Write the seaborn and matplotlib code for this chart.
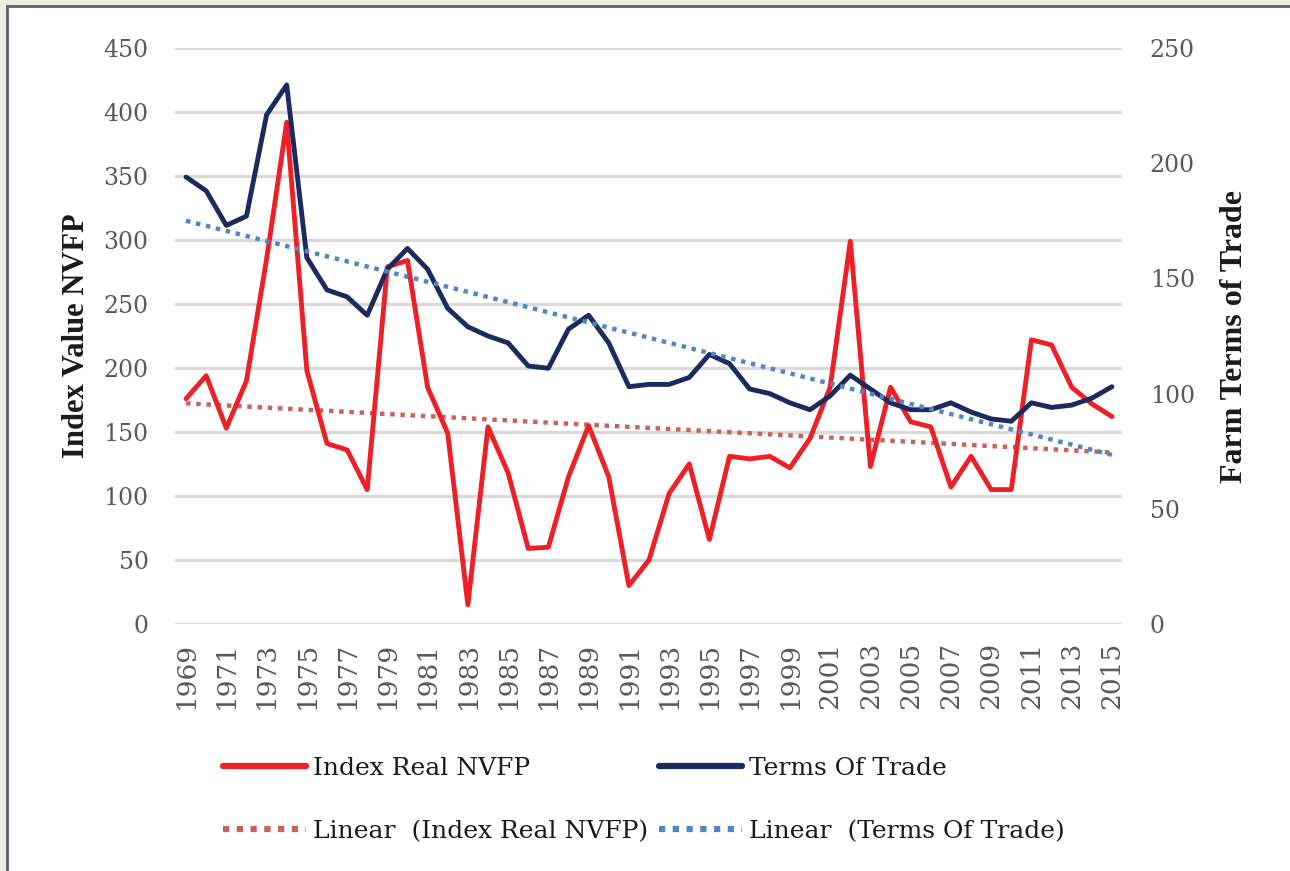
import matplotlib
matplotlib.use("Agg")
import matplotlib.pyplot as plt
import seaborn as sns
import numpy as np
import pandas as pd
from matplotlib.lines import Line2D
from matplotlib.patches import Rectangle

years = list(range(1969, 2016))
index_real_nvfp = [176, 194, 153, 190, 285, 392, 198, 141, 136, 105, 279, 284, 185, 149, 15,
                   154, 118, 59, 60, 115, 155, 115, 30, 50, 102, 125, 66, 131, 129, 131, 122,
                   145, 185, 299, 123, 185, 158, 154, 107, 131, 105, 105, 222, 218, 185, 172, 162]
terms_of_trade = [194, 188, 173, 177, 221, 234, 159, 145, 142, 134, 154, 163, 154, 137, 129,
                  125, 122, 112, 111, 128, 134, 122, 103, 104, 104, 107, 117, 113, 102, 100, 96,
                  93, 99, 108, 102, 96, 93, 93, 96, 92, 89, 88, 96, 94, 95, 98, 103]
left_ticks = [0, 50, 100, 150, 200, 250, 300, 350, 400, 450]
right_ticks = [0, 50, 100, 150, 200, 250]
xtick_years = list(range(1969, 2016, 2))

df = pd.DataFrame({"year": years, "nvfp": index_real_nvfp, "tot": terms_of_trade})

RED = "#EE2027"
NAVY = "#1C2A5E"
RED_TREND = "#C9625F"
BLUE_TREND = "#4F86C6"
GRID = "#D9D9D9"
TICKC = "#595959"

sns.set_theme(style="white")
plt.rcParams["font.family"] = ["DejaVu Serif"]

fig = plt.figure(figsize=(12.9, 8.71), dpi=100)
fig.patch.set_facecolor("#EEEAE4")
fig.patches.append(Rectangle((7/1290, -0.05), 1.2, 1 - 6/871 + 0.05, transform=fig.transFigure,
                             facecolor="white", edgecolor="#5A5F66", linewidth=2, zorder=-1))

ax = fig.add_axes([175/1290, 1 - 624/871, (1122 - 175)/1290, (624 - 48)/871])
ax.set_facecolor("none")
ax2 = ax.twinx()

# left axis: NVFP + trend
sns.regplot(data=df, x="year", y="nvfp", ax=ax, scatter=False, ci=None, truncate=True,
            line_kws=dict(color=RED_TREND, linestyle=(0, (1, 1.3)), linewidth=3.2))
sns.lineplot(data=df, x="year", y="nvfp", ax=ax, color=RED, linewidth=3.5)

# right axis: Terms of trade + trend
sns.lineplot(data=df, x="year", y="tot", ax=ax2, color=NAVY, linewidth=3.5)
sns.regplot(data=df, x="year", y="tot", ax=ax2, scatter=False, ci=None, truncate=True,
            line_kws=dict(color=BLUE_TREND, linestyle=(0, (1, 1.3)), linewidth=3.2))

ax.set_xlim(1968.45, 2015.5)
ax.set_ylim(0, 450)
ax2.set_ylim(0, 250)
ax.set_yticks(left_ticks)
ax2.set_yticks(right_ticks)
ax.set_xticks(xtick_years)
ax.set_xticklabels([str(y) for y in xtick_years], rotation=90, fontsize=19, color=TICKC)
ax.set_yticklabels([str(v) for v in left_ticks], fontsize=17, color=TICKC)
ax2.set_yticklabels([str(v) for v in right_ticks], fontsize=17, color=TICKC)

ax.grid(axis="y", color=GRID, linewidth=2.2)
ax.grid(axis="x", visible=False)
ax.set_axisbelow(True)
for a in (ax, ax2):
    for s in a.spines.values():
        s.set_visible(False)
    a.tick_params(length=0)
ax.tick_params(axis="y", pad=19)
ax.tick_params(axis="x", pad=13)
ax2.tick_params(axis="y", pad=20)

ax.set_xlabel("")
ax.set_ylabel("Index Value NVFP", family="Liberation Serif", fontweight="bold", fontsize=22,
              color="#1A1A1A", labelpad=9)
ax2.set_ylabel("Farm Terms of Trade", family="Liberation Serif", fontweight="bold", fontsize=23,
               color="#1A1A1A", labelpad=18)

handles = [
    Line2D([], [], color=RED, linewidth=4.5),
    Line2D([], [], color=RED_TREND, linewidth=4.5, linestyle=(0, (1, 1.2))),
    Line2D([], [], color=NAVY, linewidth=4.5),
    Line2D([], [], color=BLUE_TREND, linewidth=4.5, linestyle=(0, (1, 1.2))),
]
labels = ["Index Real NVFP", "Linear  (Index Real NVFP)", "Terms Of Trade", "Linear  (Terms Of Trade)"]
fig.legend(handles, labels, ncol=2, loc="upper left", bbox_to_anchor=(223/1290, 1 - 757/871),
           frameon=False, fontsize=18, handlelength=3.3, handletextpad=0.3, columnspacing=0.45,
           labelspacing=1.6, borderpad=0, borderaxespad=0, labelcolor="#1A1A1A")

fig.savefig("out.png", dpi=100)
